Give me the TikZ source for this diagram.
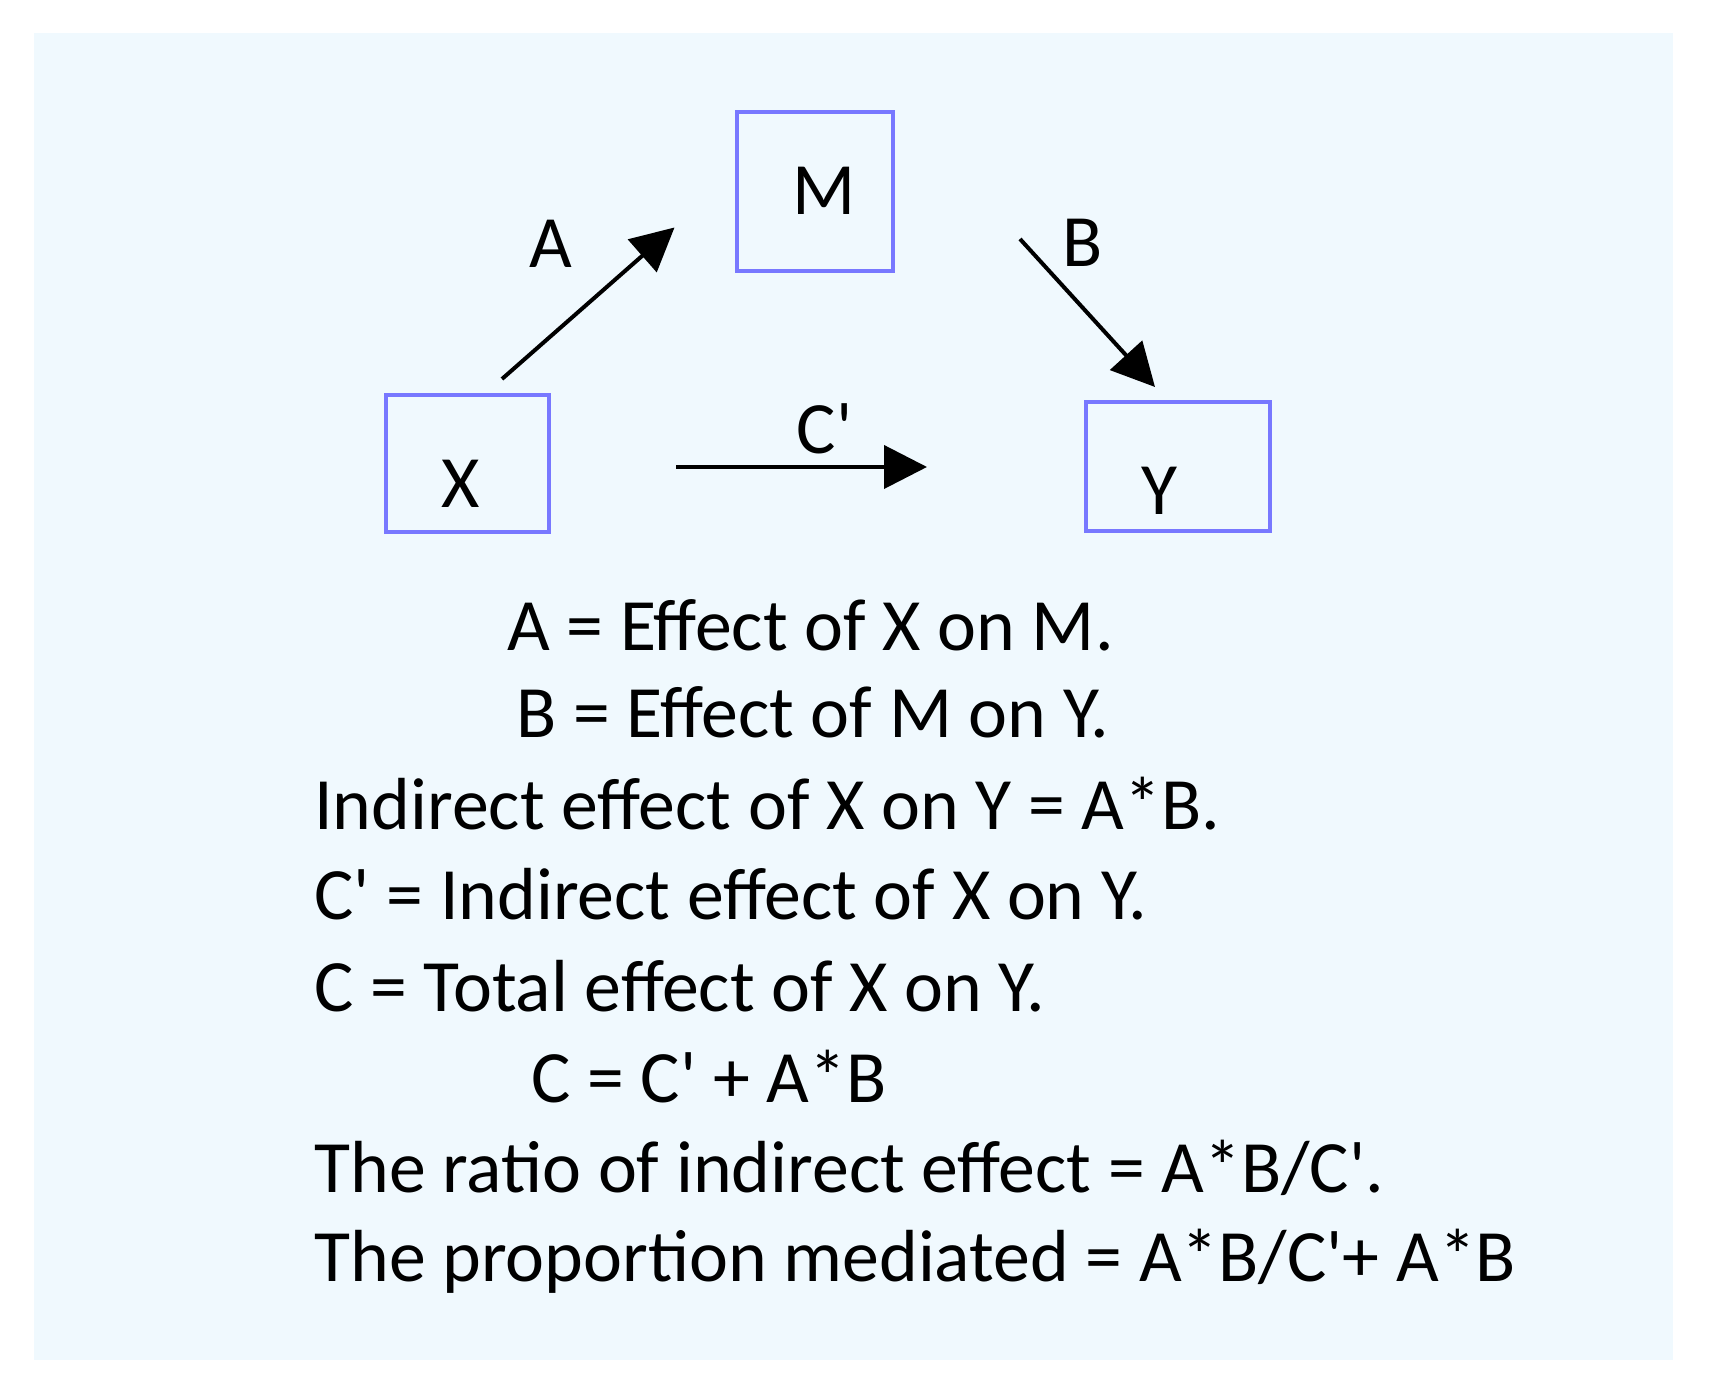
\documentclass[tikz,border=0pt]{standalone}
\usepackage{fontspec}
\setmainfont{Carlito}[Ligatures=TeXOff]
\usetikzlibrary{arrows.meta}
\definecolor{panelbg}{RGB}{240,249,254}
\definecolor{boxblue}{RGB}{120,120,255}
\tikzset{
  varbox/.style={draw=boxblue, line width=0.07cm, inner sep=0pt},
  vartext/.style={inner sep=0pt, font=\fontsize{42pt}{50pt}\selectfont},
  effect/.style={line width=0.08cm, -{Triangle[length=0.86cm, width=0.86cm]}},
  eqline/.style={inner sep=0pt, anchor=base west, font=\fontsize{42pt}{50pt}\selectfont}
}

\begin{document}
\begin{tikzpicture}
		%%%%% START %%%%%
		\useasboundingbox (0, 0) rectangle (34.34, 27.62);
		\fill[panelbg] (0.68, 0.42) rectangle (33.46, 26.96);
		
		% the three variables
		\node[varbox, minimum width=3.26cm, minimum height=2.74cm] (X) at (9.35, 18.35) {};
		\node[varbox, minimum width=3.12cm, minimum height=3.18cm] (M) at (16.30, 23.79) {};
		\node[varbox, minimum width=3.68cm, minimum height=2.58cm] (Y) at (23.56, 18.29) {};
		\node[vartext] (Xname) at (9.22, 17.94) {X};
		\node[vartext] (Mname) at (16.49, 23.80) {M};
		\node[vartext] (Yname) at (23.19, 17.81) {Y};
		
		% paths
		\coordinate (Afrom) at (10.04, 20.04);
		\coordinate (Ato) at (13.49, 23.07);
		\coordinate (Bfrom) at (20.40, 22.84);
		\coordinate (Bto) at (23.10, 19.88);
		\coordinate (Cfrom) at (13.52, 18.28);
		\coordinate (Cto) at (18.54, 18.28);
		\draw[effect] (Afrom) -- (Ato);
		\draw[effect] (Bfrom) -- (Bto);
		\draw[effect] (Cfrom) -- (Cto);
		\node[vartext] (Alabel) at (11.02, 22.75) {A};
		\node[vartext] (Blabel) at (21.65, 22.77) {B};
		\node[vartext] (Clabel) at (16.49, 19.05) {C'};
		
		% definitions
		\node[eqline] (eqA) at (10.14, 14.60) {A = Effect of X on M.};
		\node[eqline] (eqB) at (10.32, 12.86) {B = Effect of M on Y.};
		\node[eqline] (eqAB) at (6.28, 11.02) {Indirect effect of X on Y = A*B.};
		\node[eqline] (eqCp) at (6.28, 9.22) {C' = Indirect effect of X on Y.};
		\node[eqline] (eqC) at (6.28, 7.38) {C = Total effect of X on Y.};
		\node[eqline] (eqsum) at (10.62, 5.56) {C = C' + A*B};
		\node[eqline] (eqratio) at (6.28, 3.76) {The ratio of indirect effect = A*B/C'.};
		\node[eqline] (eqprop) at (6.28, 1.98) {The proportion mediated = A*B/C'+ A*B};
		%%%%% END %%%%%
\end{tikzpicture}
\end{document}
